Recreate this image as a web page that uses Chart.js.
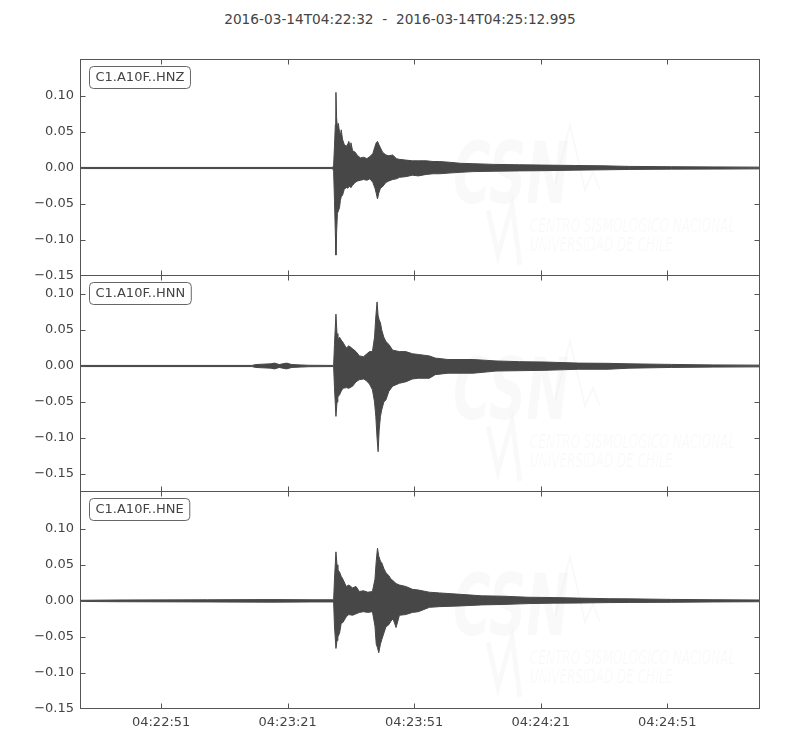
<!DOCTYPE html>
<html><head><meta charset="utf-8">
<script src="https://cdn.jsdelivr.net/npm/chart.js@4.4.0/dist/chart.umd.min.js"></script>
<style>
html,body{margin:0;padding:0;background:#fff;}
#wrap{position:relative;width:800px;height:750px;overflow:hidden;background:#fff;}
canvas{position:absolute;left:0;}
#title{position:absolute;top:11px;left:0;width:800px;text-align:center;font:13.7px "DejaVu Sans";color:#444;white-space:pre;}
</style></head><body>
<div id="wrap">
<div id="title">2016-03-14T04:22:32  -  2016-03-14T04:25:12.995</div>
<canvas id="c1" width="800" height="292" style="top:0px"></canvas>
<canvas id="c2" width="800" height="248" style="top:260px"></canvas>
<canvas id="c3" width="800" height="274" style="top:476px"></canvas>
</div>
<script>
// ---- data (seconds after 2016-03-14T04:22:32, amplitude envelope) ----
const traceLabels = ["C1.A10F..HNZ", "C1.A10F..HNN", "C1.A10F..HNE"];
const xTickSec = [19, 49, 79, 109, 139];
const xTickLabels = ["04:22:51", "04:23:21", "04:23:51", "04:24:21", "04:24:51"];
const yTicksZ = [-0.15, -0.10, -0.05, 0.00, 0.05, 0.10];
const yTicksN = [-0.15, -0.10, -0.05, 0.00, 0.05, 0.10];
const yTicksE = [-0.15, -0.10, -0.05, 0.00, 0.05, 0.10];

const zT  = [0, 59.7, 59.9, 60.1, 60.3, 60.45, 60.6, 60.8, 61.0, 61.3, 61.5, 61.7, 62.0, 62.4, 62.9, 63.3, 63.5, 63.8, 64.0, 64.4, 65.0, 65.6, 66.3, 67.0, 67.8, 68.5, 69.2, 69.7, 70.0, 70.3, 70.6, 71.0, 71.5, 72.3, 73.0, 73.9, 74.8, 75.5, 77.0, 78.6, 80.0, 81.8, 83.5, 85.0, 87.3, 90, 93, 98, 104, 110, 117, 124, 130, 140, 150, 161];
const zHi = [0.0008, 0.0008, 0.004, 0.03, 0.06, 0.105, 0.07, 0.055, 0.062, 0.05, 0.045, 0.053, 0.04, 0.033, 0.03, 0.034, 0.037, 0.03, 0.035, 0.024, 0.022, 0.017, 0.014, 0.015, 0.013, 0.016, 0.02, 0.03, 0.035, 0.037, 0.033, 0.028, 0.022, 0.018, 0.017, 0.018, 0.013, 0.012, 0.011, 0.01, 0.01, 0.01, 0.009, 0.009, 0.008, 0.0065, 0.006, 0.005, 0.0045, 0.004, 0.0035, 0.003, 0.0022, 0.0018, 0.0015, 0.0012];
const zLo = [-0.0008, -0.0008, -0.005, -0.045, -0.09, -0.121, -0.09, -0.063, -0.06, -0.055, -0.045, -0.04, -0.038, -0.03, -0.027, -0.028, -0.026, -0.025, -0.027, -0.024, -0.02, -0.018, -0.017, -0.016, -0.017, -0.015, -0.02, -0.028, -0.035, -0.043, -0.035, -0.028, -0.026, -0.02, -0.018, -0.016, -0.015, -0.013, -0.012, -0.01, -0.011, -0.009, -0.008, -0.008, -0.007, -0.006, -0.005, -0.0045, -0.004, -0.0037, -0.003, -0.0025, -0.002, -0.0016, -0.0015, -0.0012];

const nT  = [0, 40.5, 41.5, 43, 45, 45.9, 47, 48.7, 50, 52, 54, 59.9, 60.1, 60.45, 60.7, 60.9, 61.3, 61.7, 62.1, 62.9, 63.5, 64.4, 65.2, 66.0, 67.0, 67.6, 68.4, 69.1, 69.6, 69.9, 70.2, 70.45, 70.7, 71.0, 71.3, 71.8, 72.3, 73.0, 73.9, 75.5, 77, 78.6, 80, 82.6, 84, 87, 93, 98.4, 104, 110, 118, 125, 130, 140, 150, 161];
const nHi = [0.0008, 0.0008, 0.002, 0.0025, 0.003, 0.004, 0.002, 0.004, 0.002, 0.0015, 0.001, 0.0008, 0.03, 0.072, 0.045, 0.036, 0.04, 0.036, 0.033, 0.025, 0.028, 0.024, 0.02, 0.014, 0.013, 0.016, 0.02, 0.02, 0.04, 0.068, 0.089, 0.07, 0.064, 0.06, 0.05, 0.04, 0.034, 0.03, 0.022, 0.02, 0.02, 0.017, 0.016, 0.014, 0.011, 0.009, 0.009, 0.007, 0.006, 0.0055, 0.004, 0.0037, 0.003, 0.0022, 0.0015, 0.0012];
const nLo = [-0.0008, -0.0008, -0.002, -0.0025, -0.003, -0.004, -0.002, -0.004, -0.002, -0.0015, -0.001, -0.0008, -0.03, -0.07, -0.05, -0.043, -0.04, -0.035, -0.031, -0.03, -0.031, -0.028, -0.022, -0.019, -0.018, -0.02, -0.025, -0.033, -0.05, -0.07, -0.1, -0.119, -0.089, -0.07, -0.061, -0.05, -0.047, -0.035, -0.028, -0.024, -0.022, -0.018, -0.017, -0.017, -0.012, -0.01, -0.01, -0.007, -0.0065, -0.006, -0.0045, -0.0045, -0.003, -0.002, -0.0015, -0.0012];

const eT  = [0, 9, 30, 45, 55, 59.9, 60.1, 60.45, 60.7, 60.9, 61.3, 61.7, 62.1, 62.9, 63.5, 64.4, 65.2, 66.0, 67.0, 68.0, 69.1, 69.7, 70.0, 70.3, 70.6, 71.0, 71.3, 71.8, 72.3, 73.0, 73.5, 74.0, 74.7, 75.5, 77.0, 78.6, 80, 82.6, 85, 90, 95, 100, 106, 112, 118, 125, 130, 140, 150, 161];
const eHi = [0.0008, 0.0012, 0.0015, 0.0018, 0.0015, 0.0015, 0.03, 0.068, 0.05, 0.043, 0.04, 0.034, 0.03, 0.02, 0.022, 0.018, 0.02, 0.013, 0.014, 0.012, 0.013, 0.03, 0.055, 0.073, 0.062, 0.055, 0.053, 0.045, 0.039, 0.035, 0.03, 0.028, 0.024, 0.022, 0.02, 0.016, 0.015, 0.012, 0.011, 0.009, 0.007, 0.0065, 0.005, 0.0046, 0.0038, 0.003, 0.0028, 0.002, 0.0016, 0.0012];
const eLo = [-0.0008, -0.0012, -0.0015, -0.0018, -0.0015, -0.0015, -0.035, -0.066, -0.055, -0.05, -0.045, -0.031, -0.03, -0.022, -0.019, -0.02, -0.018, -0.016, -0.015, -0.016, -0.015, -0.035, -0.06, -0.065, -0.072, -0.06, -0.054, -0.045, -0.036, -0.033, -0.028, -0.025, -0.037, -0.02, -0.019, -0.016, -0.015, -0.009, -0.008, -0.007, -0.0056, -0.005, -0.0038, -0.0032, -0.003, -0.0024, -0.0022, -0.002, -0.0015, -0.0012];

const xEnd = 160.995;
const TRACE = '#474747';
const INK = '#444';
const FRAME = '#555';

function fmtY(v) {
  return (v < 0 ? '\u2212' : '') + Math.abs(v).toFixed(2);
}

const panelPlugin = {
  id: 'panel',
  beforeDatasetsDraw(chart) {
    const {ctx, chartArea: a} = chart;
    ctx.save();
    ctx.beginPath();
    ctx.rect(a.left, a.top, a.right - a.left, a.bottom - a.top);
    ctx.clip();
    ctx.fillStyle = 'rgba(0,0,0,0.022)';
    ctx.strokeStyle = 'rgba(0,0,0,0.022)';
    const t = a.top;
    ctx.save();
    ctx.translate(453, t + 143);
    ctx.scale(0.6, 1);
    ctx.font = 'italic bold 86px "DejaVu Sans"';
    ctx.textBaseline = 'alphabetic';
    ctx.fillText('CSN', 0, 0);
    ctx.restore();
    ctx.lineWidth = 5;
    ctx.beginPath();
    ctx.moveTo(488, t + 150);
    ctx.lineTo(498, t + 195);
    ctx.lineTo(512, t + 145);
    ctx.lineTo(520, t + 205);
    ctx.stroke();
    ctx.lineWidth = 2;
    ctx.beginPath();
    ctx.moveTo(555, t + 125);
    ctx.lineTo(570, t + 65);
    ctx.lineTo(585, t + 130);
    ctx.lineTo(593, t + 112);
    ctx.lineTo(600, t + 130);
    ctx.stroke();
    ctx.save();
    ctx.translate(530, t + 172);
    ctx.scale(0.6, 1);
    ctx.font = 'italic 20px "DejaVu Sans"';
    ctx.fillText('CENTRO SISMOL\u00d3GICO NACIONAL', 0, 0);
    ctx.fillText('UNIVERSIDAD DE CHILE', 0, 19);
    ctx.restore();
    ctx.restore();
  },
  afterDraw(chart, args, opts) {
    const {ctx, chartArea: a, scales: {x, y}} = chart;
    ctx.save();
    ctx.strokeStyle = FRAME;
    ctx.lineWidth = 1;
    const L = Math.round(a.left) - 0.5, R = Math.round(a.right) - 0.5;
    const T = Math.round(a.top) - 0.5, B = Math.round(a.bottom) - 0.5;
    ctx.strokeRect(L, T, R - L, B - T);
    ctx.beginPath();
    for (const tk of y.ticks) {
      const py = Math.round(y.getPixelForValue(tk.value)) + 0.5;
      if (py <= a.top + 1 || py >= a.bottom - 1) continue;
      ctx.moveTo(L, py); ctx.lineTo(L + 5, py);
      ctx.moveTo(R, py); ctx.lineTo(R - 5, py);
    }
    for (const v of xTickSec) {
      const px = Math.round(x.getPixelForValue(v)) + 0.5;
      ctx.moveTo(px, T); ctx.lineTo(px, T + 5);
      ctx.moveTo(px, B); ctx.lineTo(px, B - 5);
    }
    ctx.stroke();
    ctx.font = '13px "DejaVu Sans"';
    const label = opts.label;
    const w = ctx.measureText(label).width + 12;
    const bx = a.left + 8.5, by = a.top + 6.5, bh = 22, r = 4;
    ctx.beginPath();
    ctx.moveTo(bx + r, by);
    ctx.lineTo(bx + w - r, by);
    ctx.arcTo(bx + w, by, bx + w, by + r, r);
    ctx.lineTo(bx + w, by + bh - r);
    ctx.arcTo(bx + w, by + bh, bx + w - r, by + bh, r);
    ctx.lineTo(bx + r, by + bh);
    ctx.arcTo(bx, by + bh, bx, by + bh - r, r);
    ctx.lineTo(bx, by + r);
    ctx.arcTo(bx, by, bx + r, by, r);
    ctx.closePath();
    ctx.fillStyle = '#fff';
    ctx.fill();
    ctx.strokeStyle = '#666';
    ctx.stroke();
    ctx.fillStyle = INK;
    ctx.textBaseline = 'middle';
    ctx.textAlign = 'left';
    ctx.fillText(label, bx + 6, by + bh / 2 + 0.5);
    ctx.restore();
  }
};

function makeChart(id, T, hi, lo, yMin, yMax, yTicks, label, showX, pad) {
  const upper = T.map((t, i) => ({x: t, y: hi[i]}));
  const lower = T.map((t, i) => ({x: t, y: lo[i]}));
  const xScale = {
    type: 'linear', min: 0, max: xEnd, display: showX,
    grid: {display: false, drawTicks: false}, border: {display: false},
    afterBuildTicks: s => { s.ticks = xTickSec.map(v => ({value: v})); },
    ticks: {
      autoSkip: false, maxRotation: 0, padding: 6,
      color: INK, font: {family: 'DejaVu Sans', size: 13},
      callback: v => xTickLabels[xTickSec.indexOf(v)]
    }
  };
  if (showX) xScale.afterFit = s => { s.height = 41; };
  return new Chart(document.getElementById(id), {
    type: 'line',
    data: {
      datasets: [
        {data: upper, borderColor: TRACE, borderWidth: 1, pointRadius: 0, fill: false, tension: 0},
        {data: lower, borderColor: TRACE, borderWidth: 1, pointRadius: 0, fill: '-1', backgroundColor: TRACE, tension: 0}
      ]
    },
    options: {
      responsive: false,
      animation: false,
      devicePixelRatio: 1,
      layout: {padding: pad},
      plugins: {legend: {display: false}, tooltip: {enabled: false}, title: {display: false}, panel: {label: label}},
      scales: {
        x: xScale,
        y: {
          type: 'linear', min: yMin, max: yMax,
          grid: {display: false, drawTicks: false}, border: {display: false},
          afterBuildTicks: s => { s.ticks = yTicks.map(v => ({value: v})); },
          afterFit: s => { s.width = 81; },
          ticks: {
            autoSkip: false, padding: 7,
            color: INK, font: {family: 'DejaVu Sans', size: 13},
            callback: v => fmtY(v)
          }
        }
      }
    },
    plugins: [panelPlugin]
  });
}

makeChart('c1', zT, zHi, zLo, -0.15, 0.15, yTicksZ, traceLabels[0], false, {left: 0, right: 40, top: 60, bottom: 16});
makeChart('c2', nT, nHi, nLo, -0.175, 0.125, yTicksN, traceLabels[1], false, {left: 0, right: 40, top: 16, bottom: 16});
makeChart('c3', eT, eHi, eLo, -0.15, 0.151, yTicksE, traceLabels[2], true, {left: 0, right: 40, top: 16, bottom: 0});
</script>
</body></html>
